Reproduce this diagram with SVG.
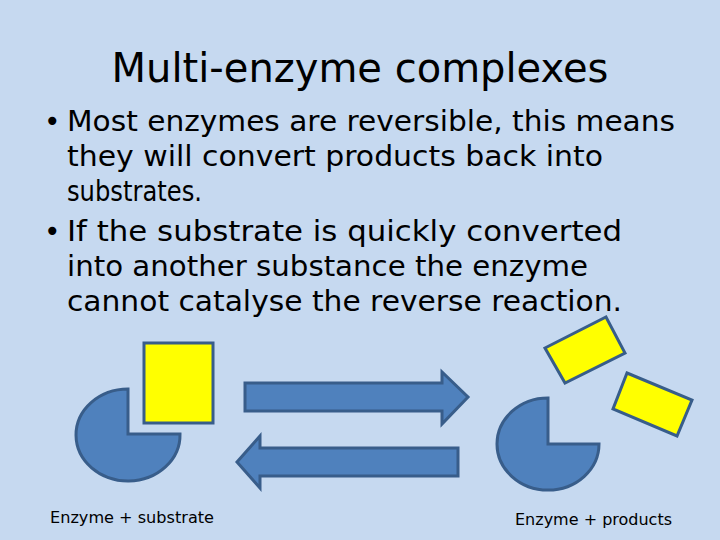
<svg xmlns="http://www.w3.org/2000/svg" width="720" height="540" viewBox="0 0 720 540">
<style>
.t{font-family:"DejaVu Sans","Liberation Sans",sans-serif;fill:#000}
.b{fill:#4f81bd;stroke:#385d8a;stroke-width:3}
.y{fill:#ffff00;stroke:#385d8a;stroke-width:3}
</style>
<rect width="720" height="540" fill="#c6d9f0"/>
<g id="title"><text class="t" x="360" y="82" font-size="40" text-anchor="middle">Multi-enzyme complexes</text></g>
<g id="bullets" class="t" font-size="28" lengthAdjust="spacingAndGlyphs">
<text x="44" y="131">•</text>
<text x="67" y="131" textLength="608" lengthAdjust="spacingAndGlyphs">Most enzymes are reversible, this means</text>
<text x="67" y="166" textLength="536" lengthAdjust="spacingAndGlyphs">they will convert products back into</text>
<text x="67" y="201" textLength="135" lengthAdjust="spacingAndGlyphs">substrates.</text>
<text x="44" y="241">•</text>
<text x="67" y="241" textLength="555" lengthAdjust="spacingAndGlyphs">If the substrate is quickly converted</text>
<text x="67" y="276" textLength="521" lengthAdjust="spacingAndGlyphs">into another substance the enzyme</text>
<text x="67" y="311" textLength="555" lengthAdjust="spacingAndGlyphs">cannot catalyse the reverse reaction.</text>
</g>
<g id="enzyme1"><path class="b" d="M128,389 L128,434 L180,434 A52,46 0 1 1 128,389 Z"/></g>
<g id="substrate"><rect class="y" x="144" y="343" width="69" height="80"/></g>
<g id="connectors">
<path class="b" d="M245,383 L442,383 L442,372 L468,397 L442,424 L442,411 L245,411 Z"/>
<path class="b" d="M458,448 L260,448 L260,436 L237,462 L260,488 L260,476 L458,476 Z"/>
</g>
<g id="enzyme2"><path class="b" d="M548,398 L548,444 L599,444 A51,46 0 1 1 548,398 Z"/></g>
<g id="product1"><polygon class="y" points="545,348 606,317 625,353 565,383"/></g>
<g id="product2"><polygon class="y" points="627,373 692,400 677,436 613,409"/></g>
<g id="label1"><text class="t" x="50" y="523" font-size="15" textLength="164" lengthAdjust="spacingAndGlyphs">Enzyme + substrate</text></g>
<g id="label2"><text class="t" x="515" y="525" font-size="15" textLength="157" lengthAdjust="spacingAndGlyphs">Enzyme + products</text></g>
</svg>
